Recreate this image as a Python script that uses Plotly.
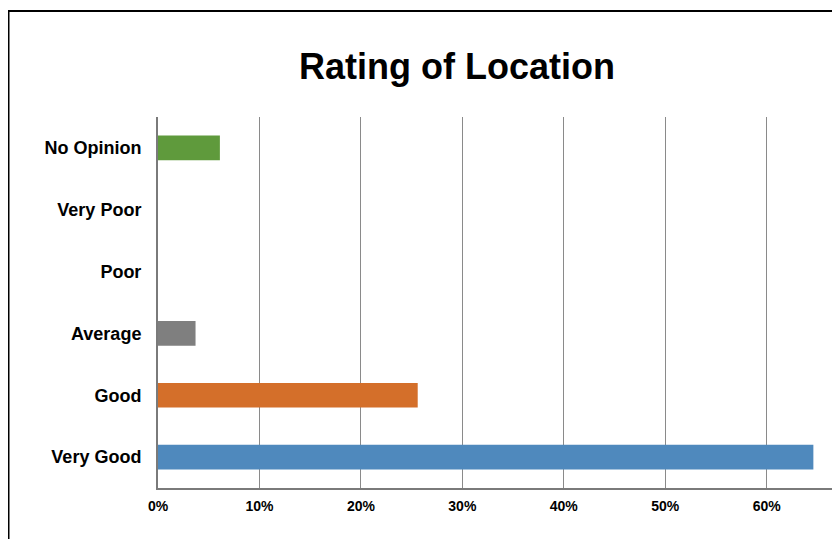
import plotly.graph_objects as go

categories = ["Very Good", "Good", "Average", "Poor", "Very Poor", "No Opinion"]
values = [0.646, 0.256, 0.037, 0.0, 0.0, 0.061]
colors = ["#4F89BD", "#D46F2A", "#7F7F7F", "#7F7F7F", "#7F7F7F", "#5F9A3C"]
tick_vals = [0, 0.1, 0.2, 0.3, 0.4, 0.5, 0.6]
tick_text = ["0%", "10%", "20%", "30%", "40%", "50%", "60%"]
title_text = "Rating of Location"

FONT = "Arial, Liberation Sans, Helvetica, sans-serif"

# page has an 8px body margin, so the figure is shrunk/shifted by 8px
OFF = 8
W, H = 840 - OFF, 539 - OFF

fig = go.Figure(
    go.Bar(
        x=values,
        y=categories,
        orientation="h",
        marker=dict(color=colors, line=dict(width=0)),
        width=0.4,
        hoverinfo="skip",
    )
)

fig.update_layout(
    width=W,
    height=H,
    margin=dict(l=158 - OFF, r=0, t=117 - OFF, b=H - (488 - OFF)),
    paper_bgcolor="white",
    plot_bgcolor="white",
    showlegend=False,
    title=dict(
        text=title_text,
        font=dict(family=FONT, size=36, color="black", weight="bold"),
        xref="container",
        x=(457 - OFF) / W,
        xanchor="center",
        yref="container",
        y=1 - (66 - OFF) / H,
        yanchor="middle",
    ),
    xaxis=dict(
        range=[0, 682 / 1014.5],
        tickvals=tick_vals,
        ticktext=tick_text,
        showgrid=True,
        gridcolor="#8A8A8A",
        gridwidth=1,
        zeroline=False,
        showline=True,
        linecolor="#7A7A7A",
        linewidth=2,
        ticks="",
        ticklabelstandoff=4,
        tickfont=dict(family=FONT, size=14, color="black", weight="bold"),
        fixedrange=True,
    ),
    yaxis=dict(
        type="category",
        categoryorder="array",
        categoryarray=categories,
        showgrid=False,
        zeroline=False,
        showline=True,
        linecolor="#7A7A7A",
        linewidth=2,
        ticks="",
        ticklabelstandoff=11,
        tickfont=dict(family=FONT, size=18, color="black", weight="bold"),
        fixedrange=True,
    ),
    shapes=[
        dict(
            type="rect",
            xref="paper",
            yref="paper",
            x0=(8.5 - 158) / 682,
            x1=1.2,
            y0=-0.5,
            y1=(488 - 11) / 371,
            line=dict(color="black", width=2),
            fillcolor="rgba(0,0,0,0)",
            layer="above",
        )
    ],
)

fig.write_html("out.html", config={"displayModeBar": False})
